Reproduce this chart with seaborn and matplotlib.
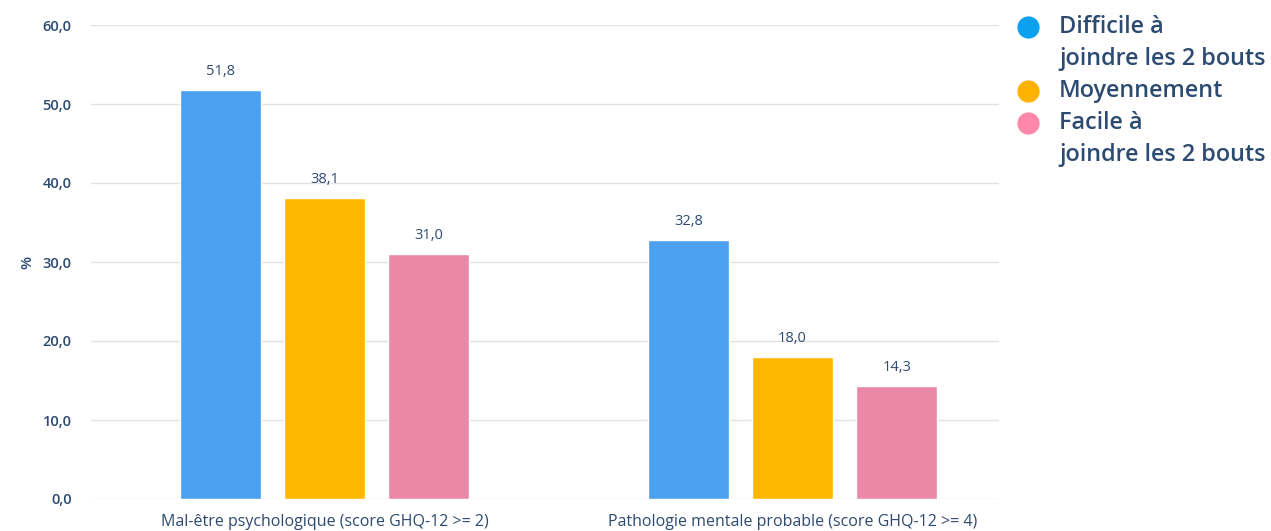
import matplotlib
matplotlib.use("Agg")
import matplotlib.pyplot as plt
from matplotlib.lines import Line2D
import seaborn as sns
import pandas as pd

categories = ["Mal-être psychologique (score GHQ-12 >= 2)",
              "Pathologie mentale probable (score GHQ-12 >= 4)"]
groups = ["Difficile à\njoindre les 2 bouts", "Moyennement", "Facile à\njoindre les 2 bouts"]
values_difficile = [51.8, 32.8]
values_moyen = [38.1, 18.0]
values_facile = [31.0, 14.3]
yticks = [0, 10, 20, 30, 40, 50, 60]

bar_colors = ["#4DA0EE", "#FFB800", "#EB88A8"]
legend_colors = ["#0AA2F0", "#FFB300", "#FF88AA"]
text_color = "#2D4A70"

rows = []
for g, vals in zip(groups, [values_difficile, values_moyen, values_facile]):
    for c, v in zip(categories, vals):
        rows.append({"cat": c, "group": g, "value": v})
df = pd.DataFrame(rows)

sns.set_theme(style="white")
plt.rcParams["font.family"] = ["Open Sans", "DejaVu Sans"]

fig = plt.figure(figsize=(12.71, 5.31), dpi=100)
ax = fig.add_axes([91/1271, 1-499/531, (999-91)/1271, (499-25)/531])

sns.barplot(data=df, x="cat", y="value", hue="group", order=categories,
            hue_order=groups, palette=bar_colors, width=0.667, gap=0.22,
            legend=False, ax=ax, saturation=1)

for cont in ax.containers:
    labels = [f"{v:.1f}".replace(".", ",") for v in cont.datavalues]
    ax.bar_label(cont, labels=labels, padding=8, fontsize=10.5, color=text_color)

ax.set_xlim(-0.499, 1.441)
ax.set_ylim(0, 60)
ax.set_yticks(yticks)
ax.set_yticklabels([f"{t:.1f}".replace(".", ",") for t in yticks],
                   fontsize=10.5, color=text_color, fontweight="semibold")
ax.tick_params(axis="y", pad=14, length=0)
ax.tick_params(axis="x", pad=11, length=0, labelsize=11.5, labelcolor=text_color)
ax.grid(axis="y", color="#E2E2E2", linewidth=1)
ax.set_axisbelow(True)
for s in ax.spines.values():
    s.set_visible(False)
ax.set_xlabel("")
ax.set_ylabel("%", fontsize=11, color=text_color, fontweight="semibold", labelpad=6)

# legend
lines = [(groups[0], legend_colors[0]), (groups[1], legend_colors[1]), (groups[2], legend_colors[2])]
y = 27
for label, col in lines:
    fig.add_artist(Line2D([1028/1271], [1 - y/531], marker="o", markersize=15,
                          color=col, linestyle="none", transform=fig.transFigure))
    for i, part in enumerate(label.split("\n")):
        fig.text(1059/1271, 1 - (y + 32*i)/531, part, fontsize=16.8, color=text_color,
                 fontweight="semibold", va="center", ha="left")
    y += 32 * len(label.split("\n"))

fig.savefig("out.png", dpi=100)
